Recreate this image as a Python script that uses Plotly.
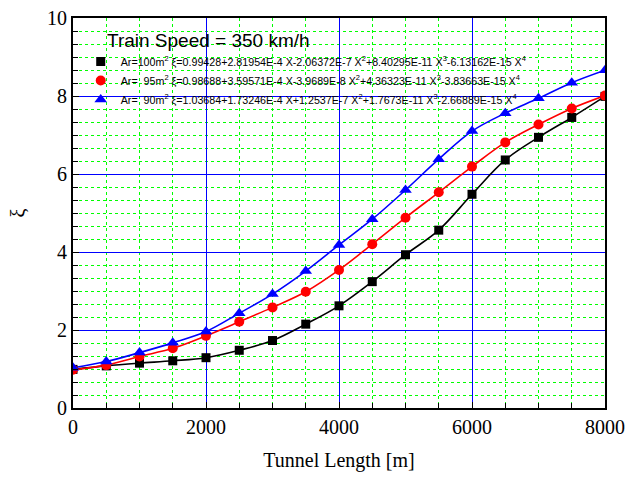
import plotly.graph_objects as go

# Data
tunnel_length = [0, 500, 1000, 1500, 2000, 2500, 3000, 3500, 4000, 4500,
                 5000, 5500, 6000, 6500, 7000, 7500, 8000]
xi_ar100 = [0.99, 1.08, 1.15, 1.21, 1.29, 1.48, 1.73, 2.15, 2.62, 3.24,
            3.93, 4.56, 5.48, 6.36, 6.94, 7.45, 7.99]
xi_ar95 = [0.98, 1.10, 1.32, 1.53, 1.85, 2.21, 2.58, 2.98, 3.54, 4.20,
           4.88, 5.53, 6.19, 6.81, 7.27, 7.68, 8.01]
xi_ar90 = [1.03, 1.19, 1.42, 1.67, 1.96, 2.43, 2.92, 3.51, 4.18, 4.84,
           5.59, 6.38, 7.10, 7.56, 7.94, 8.34, 8.66]

legend_title = "Train Speed = 350 km/h"
names = [
    "Ar=100m<sup>2</sup> \u03be=0.99428+2.81954E-4 X-2.06372E-7 X<sup>2</sup>+8.40295E-11 X<sup>3</sup>-6.13162E-15 X<sup>4</sup>",
    "Ar=\u00a0\u00a095m<sup>2</sup> \u03be=0.98688+3.59571E-4 X-3.9689E-8 X<sup>2</sup>+4.36323E-11 X<sup>3</sup>-3.83663E-15 X<sup>4</sup>",
    "Ar=\u00a0\u00a090m<sup>2</sup> \u03be=1.03684+1.73246E-4 X+1.2537E-7 X<sup>2</sup>+1.7673E-11 X<sup>3</sup>-2.66889E-15 X<sup>4</sup>",
]
series = [xi_ar100, xi_ar95, xi_ar90]
colors = ["#000000", "#ff0000", "#0000ff"]
symbols = ["square", "circle", "triangle-up"]
sizes = [9, 10, 11]

fig = go.Figure()
for ys, c in zip(series, colors):
    fig.add_trace(go.Scatter(
        x=tunnel_length, y=ys, mode="lines",
        line=dict(color=c, width=1.6, shape="spline", smoothing=1.0),
        showlegend=False, hoverinfo="skip"))
for ys, c, s, sz, n in zip(series, colors, symbols, sizes, names):
    fig.add_trace(go.Scatter(
        x=tunnel_length, y=ys, mode="markers", name=n,
        marker=dict(color=c, symbol=s, size=sz, line=dict(width=0))))

axis_common = dict(
    showline=True, linecolor="black", linewidth=2, mirror=True,
    ticks="inside", ticklen=6, tickwidth=1, tickcolor="black",
    showgrid=True, gridcolor="#0000ff", gridwidth=1,
    zeroline=False, automargin=False,
    tickfont=dict(family="Liberation Serif", size=20, color="black"),
)

fig.update_xaxes(
    range=[0, 8000], dtick=2000, tick0=0,
    title=dict(text="Tunnel Length [m]",
               font=dict(family="Liberation Serif", size=20, color="black"),
               standoff=16),
    minor=dict(dtick=500, showgrid=True, gridcolor="#00ff00", griddash="dot",
               gridwidth=1, ticks="inside", ticklen=5, tickcolor="black"),
    **axis_common)
fig.update_yaxes(
    range=[0, 10], dtick=2, tick0=0,
    title=dict(text="\u03be",
               font=dict(family="Liberation Serif", size=20, color="black"),
               standoff=16),
    minor=dict(dtick=2/6, showgrid=True, gridcolor="#00ff00", griddash="dot",
               gridwidth=1, ticks="inside", ticklen=5, tickcolor="black"),
    **axis_common)

fig.add_annotation(
    text=legend_title, xref="paper", yref="paper",
    x=(105 - 73) / 532, y=(408 - 40) / 390, xanchor="left", yanchor="middle",
    showarrow=False, font=dict(family="Liberation Sans", size=19, color="black"))

fig.update_layout(
    width=638, height=484,
    margin=dict(l=73, r=33, t=18, b=76),
    paper_bgcolor="white", plot_bgcolor="white",
    font=dict(family="Liberation Sans", color="black"),
    legend=dict(
        x=0.0145, y=(408 - 47) / 390, xanchor="left", yanchor="top",
        bgcolor="rgba(0,0,0,0)", borderwidth=0,
        font=dict(family="Liberation Sans", size=10.7, color="black"),
        itemwidth=30, tracegroupgap=0,
    ),
)

fig.write_html("out.html")
